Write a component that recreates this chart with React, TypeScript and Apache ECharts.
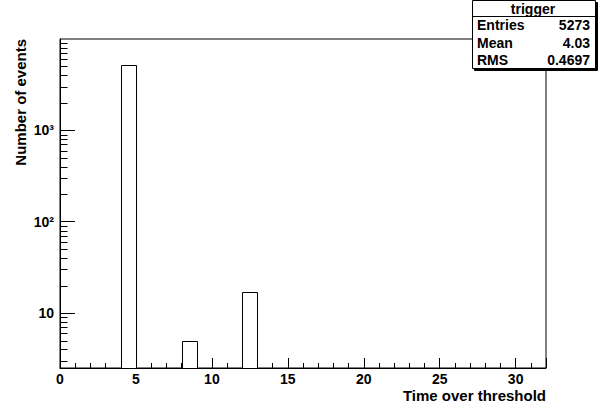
import React, { useEffect, useRef } from "react";
import * as echarts from "echarts";

// Histogram "trigger": bin lower edges, upper edges, counts
const binLow = [4, 8, 12];
const binHigh = [5, 9, 13];
const counts = [5251, 5, 17];

// Axis ranges / ticks
const xMin = 0;
const xMax = 32;
const xInterval = 5;
const yMin = 2.5;
const yMax = 10000;
const yTickValues = [10, 100, 1000];
const yTickLabels = ["10", "10²", "10³"];
const yMinorTicks = [
  3, 4, 5, 6, 7, 8, 9,
  20, 30, 40, 50, 60, 70, 80, 90,
  200, 300, 400, 500, 600, 700, 800, 900,
  2000, 3000, 4000, 5000, 6000, 7000, 8000, 9000,
];

// Stats box
const statsTitle = "trigger";
const statsNames = ["Entries", "Mean", "RMS"];
const statsValues = ["5273", "4.03", "0.4697"];

const xTitle = "Time over threshold";
const yTitle = "Number of events";

const FONT = "Liberation Sans, Arial, Helvetica, sans-serif";

export default function App() {
  const ref = useRef<HTMLDivElement>(null);
  useEffect(() => {
    if (!ref.current) return;
    const chart = echarts.init(ref.current, null, { renderer: "svg" });

    const histData = binLow.map((lo, i) => [lo, binHigh[i], counts[i]]);
    const minorData = yMinorTicks.map((v) => [xMin, v]);

    const statsElements: any[] = [
      {
        type: "rect",
        shape: { x: 474.5, y: 2.5, width: 123, height: 68 },
        style: { fill: "#000", stroke: "#000", lineWidth: 1 },
        z: 10,
      },
      {
        type: "rect",
        shape: { x: 472.5, y: 0.5, width: 123, height: 68 },
        style: { fill: "#fff", stroke: "#000", lineWidth: 1 },
        z: 11,
      },
      {
        type: "line",
        shape: { x1: 472.5, y1: 16.5, x2: 595.5, y2: 16.5 },
        style: { stroke: "#000", lineWidth: 1 },
        z: 12,
      },
      {
        type: "text",
        x: 533,
        y: 8.5,
        style: {
          text: statsTitle,
          font: `bold 14px ${FONT}`,
          fill: "#000",
          align: "center",
          verticalAlign: "middle",
        },
        z: 12,
      },
    ];
    statsNames.forEach((n, i) => {
      const yy = 25 + i * 17.5;
      statsElements.push({
        type: "text",
        x: 477,
        y: yy,
        style: { text: n, font: `bold 14px ${FONT}`, fill: "#000", align: "left", verticalAlign: "middle" },
        z: 12,
      });
      statsElements.push({
        type: "text",
        x: 590,
        y: yy,
        style: { text: statsValues[i], font: `bold 14px ${FONT}`, fill: "#000", align: "right", verticalAlign: "middle" },
        z: 12,
      });
    });

    const option: any = {
      animation: false,
      backgroundColor: "#fff",
      grid: {
        left: 60,
        top: 39,
        right: 60,
        bottom: 42,
        show: true,
        borderColor: "#000",
        borderWidth: 1,
        backgroundColor: "transparent",
        containLabel: false,
        outerBoundsMode: "none",
      },
      xAxis: {
        type: "value",
        min: xMin,
        max: xMax,
        interval: xInterval,
        axisLine: { show: true, lineStyle: { color: "#000", width: 1 } },
        axisTick: { show: true, inside: true, length: 10, lineStyle: { color: "#000", width: 1 } },
        minorTick: { show: true, splitNumber: 5, length: 5, lineStyle: { color: "#000", width: 1 } },
        splitLine: { show: false },
        minorSplitLine: { show: false },
        axisLabel: {
          color: "#000",
          fontSize: 14,
          fontWeight: "bold",
          fontFamily: FONT,
          margin: 4,
          showMaxLabel: false,
        },
      },
      yAxis: {
        type: "log",
        logBase: 10,
        min: yMin,
        max: yMax,
        axisLine: { show: true, lineStyle: { color: "#000", width: 1 } },
        axisTick: { show: true, inside: true, length: 15, lineStyle: { color: "#000", width: 1 } },
        splitLine: { show: false },
        axisLabel: {
          color: "#000",
          fontSize: 14,
          fontWeight: "bold",
          fontFamily: FONT,
          margin: 6,
          showMaxLabel: false,
          showMinLabel: false,
          formatter: (v: number) => {
            for (let i = 0; i < yTickValues.length; i++) {
              if (Math.abs(v - yTickValues[i]) / yTickValues[i] < 1e-6) return yTickLabels[i];
            }
            return "";
          },
        },
      },
      series: [
        {
          type: "custom",
          name: "trigger",
          data: histData,
          encode: { x: [0, 1], y: 2 },
          clip: true,
          renderItem: (params: any, api: any) => {
            const p0 = api.coord([api.value(0), api.value(2)]);
            const p1 = api.coord([api.value(1), yMin]);
            const x0 = Math.round(p0[0]) + 0.5;
            const x1 = Math.round(p1[0]) + 0.5;
            const y0 = Math.round(p0[1]) + 0.5;
            const y1 = Math.round(p1[1]) + 0.5;
            return {
              type: "rect",
              shape: { x: x0, y: y0, width: x1 - x0, height: y1 - y0 },
              style: { fill: "#fff", stroke: "#000", lineWidth: 1 },
            };
          },
          z: 3,
        },
        {
          type: "custom",
          name: "yMinorTicks",
          data: minorData,
          encode: { x: 0, y: 1 },
          silent: true,
          renderItem: (params: any, api: any) => {
            const p = api.coord([api.value(0), api.value(1)]);
            const yy = Math.round(p[1]) + 0.5;
            return {
              type: "line",
              shape: { x1: p[0], y1: yy, x2: p[0] + 7.5, y2: yy },
              style: { stroke: "#000", lineWidth: 1 },
            };
          },
          z: 4,
        },
      ],
      graphic: [
        {
          type: "text",
          x: 546,
          y: 395,
          style: {
            text: xTitle,
            font: `bold 15px ${FONT}`,
            fill: "#000",
            align: "right",
            verticalAlign: "middle",
          },
        },
        {
          type: "text",
          x: 20,
          y: 39,
          rotation: Math.PI / 2,
          style: {
            text: yTitle,
            font: `bold 15px ${FONT}`,
            fill: "#000",
            align: "right",
            verticalAlign: "middle",
          },
        },
        ...statsElements,
      ],
    };
    chart.setOption(option);
    return () => chart.dispose();
  }, []);
  return (
    <div
      ref={ref}
      style={{ position: "fixed", left: 0, top: 0, width: 606, height: 410 }}
    />
  );
}
